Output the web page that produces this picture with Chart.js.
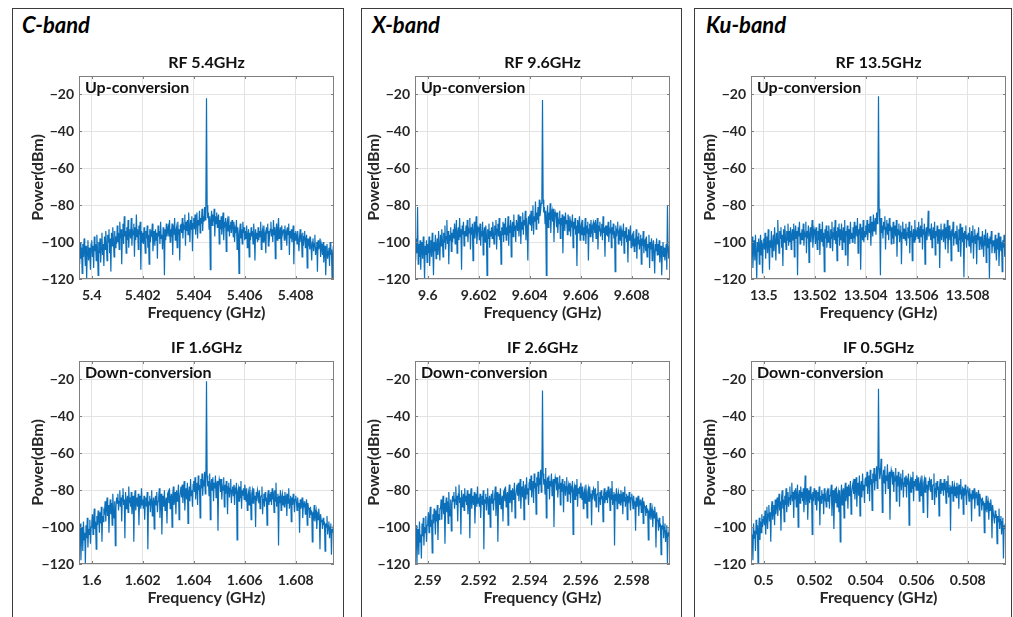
<!DOCTYPE html>
<html>
<head>
<meta charset="utf-8">
<title>Conversion spectra</title>
<script src="https://cdn.jsdelivr.net/npm/chart.js@4/dist/chart.umd.min.js"></script>
<style>
  body { margin: 0; background: #fff; width: 1013px; height: 617px; overflow: hidden; position: relative; }
  .band-box { position: absolute; top: 8px; height: 620px; border: 1.5px solid #3c3c3c; box-sizing: border-box; }
  .band-title { position: absolute; top: 13px; font: italic bold 22px Lato, "Liberation Sans", sans-serif; line-height: 24px; color: #000; }
  canvas.panel { position: absolute; }
</style>
</head>
<body>
<div class="band-box" style="left:12px;width:332px"></div>
<div class="band-box" style="left:361px;width:321px"></div>
<div class="band-box" style="left:694px;width:318px"></div>
<div class="band-title" style="left:22px">C-band</div>
<div class="band-title" style="left:372px">X-band</div>
<div class="band-title" style="left:706px">Ku-band</div>

<canvas class="panel" id="cUpChart"></canvas>
<canvas class="panel" id="cDownChart"></canvas>
<canvas class="panel" id="xUpChart"></canvas>
<canvas class="panel" id="xDownChart"></canvas>
<canvas class="panel" id="kuUpChart"></canvas>
<canvas class="panel" id="kuDownChart"></canvas>

<script>
// Spectrum traces: 401 bins across a 10 MHz span around each centre (dBm)
const cUpCenter = 5.4045;
const cUp = [
  -104,-112,-100,-109,-103,-117,-101,-108,-98,-106,-113,-102,-120,-105,-99,-110,-103,-107,-115,-101,
  -99,-108,-102,-114,-97,-105,-101,-110,-96,-104,-118,-100,-106,-98,-111,-103,-95,-107,-101,-113,
  -97,-104,-94,-101,-110,-96,-100,-93,-106,-98,-116,-95,-102,-92,-99,-108,-94,-103,-97,-101,
  -91,-100,-95,-104,-89,-98,-93,-112,-96,-90,-101,-86,-97,-94,-106,-92,-99,-88,-103,-95,
  -93,-98,-87,-102,-94,-96,-90,-108,-92,-99,-85,-97,-93,-104,-91,-96,-89,-115,-94,-100,
  -95,-101,-92,-99,-106,-94,-98,-91,-103,-96,-112,-93,-100,-95,-97,-90,-105,-98,-94,-102,
  -93,-99,-95,-109,-91,-97,-94,-101,-89,-98,-96,-104,-92,-95,-118,-93,-99,-90,-97,-94,
  -92,-97,-88,-100,-93,-95,-90,-107,-91,-96,-87,-99,-94,-92,-103,-89,-96,-93,-110,-91,
  -90,-95,-87,-98,-91,-93,-85,-102,-89,-94,-88,-96,-84,-92,-100,-88,-93,-86,-105,-90,
  -87,-93,-85,-96,-89,-84,-98,-88,-91,-83,-95,-87,-90,-82,-94,-86,-89,-81,-88,-79,
  -22,
  -80,-87,-84,-93,-86,-115,-88,-83,-91,-85,-89,-82,-97,-86,-90,-84,-92,-87,-85,-101,
  -88,-93,-86,-96,-90,-84,-99,-89,-92,-87,-105,-90,-88,-94,-86,-97,-91,-89,-95,-88,
  -91,-97,-89,-100,-93,-95,-88,-104,-92,-96,-117,-94,-90,-98,-93,-101,-89,-95,-92,-99,
  -94,-98,-91,-103,-96,-93,-108,-95,-99,-92,-97,-94,-101,-90,-96,-110,-93,-98,-95,-100,
  -92,-99,-94,-97,-89,-104,-95,-93,-100,-91,-98,-96,-106,-92,-95,-90,-102,-94,-97,-93,
  -89,-97,-93,-100,-88,-96,-92,-109,-94,-90,-99,-93,-87,-98,-95,-92,-104,-91,-96,-94,
  -93,-99,-91,-97,-95,-102,-92,-96,-90,-107,-94,-98,-93,-100,-96,-91,-112,-95,-99,-94,
  -96,-101,-94,-99,-105,-97,-93,-100,-98,-108,-95,-102,-97,-94,-103,-99,-96,-114,-98,-101,
  -99,-104,-97,-102,-110,-100,-98,-105,-101,-96,-107,-103,-100,-116,-99,-104,-102,-98,-108,-101,
  -103,-107,-100,-111,-104,-102,-118,-106,-101,-109,-105,-103,-113,-100,-107,-104,-120,-106,-102,-109
];
const cUpTicks = [5.4, 5.402, 5.404, 5.406, 5.408];

const cDownCenter = 1.6045;
const cDown = [
  -102,-110,-98,-118,-105,-100,-113,-97,-107,-103,-120,-99,-106,-95,-111,-101,-104,-96,-109,-100,
  -98,-93,-104,-95,-90,-101,-97,-112,-94,-99,-91,-96,-103,-92,-98,-89,-108,-94,-97,-91,
  -92,-86,-97,-90,-84,-94,-88,-103,-91,-85,-93,-87,-99,-82,-90,-95,-86,-110,-89,-84,
  -87,-82,-91,-86,-80,-89,-84,-97,-83,-79,-88,-85,-106,-81,-90,-86,-83,-92,-78,-87,
  -84,-89,-81,-93,-86,-83,-108,-85,-80,-91,-87,-84,-89,-82,-99,-86,-83,-90,-79,-88,
  -85,-90,-83,-96,-87,-84,-89,-81,-112,-86,-88,-83,-92,-85,-80,-94,-87,-84,-101,-86,
  -83,-88,-81,-92,-86,-84,-79,-95,-85,-82,-104,-87,-83,-89,-80,-91,-86,-84,-98,-82,
  -81,-87,-79,-90,-84,-82,-100,-83,-78,-88,-85,-81,-93,-80,-86,-83,-77,-96,-84,-81,
  -78,-84,-77,-87,-80,-75,-91,-82,-79,-85,-76,-98,-81,-78,-86,-74,-83,-80,-89,-77,
  -75,-81,-73,-85,-78,-76,-88,-72,-80,-77,-95,-74,-79,-71,-83,-76,-78,-70,-82,-74,
  -21,
  -72,-78,-75,-83,-71,-96,-77,-74,-80,-73,-86,-76,-79,-72,-84,-77,-75,-102,-78,-74,
  -76,-81,-74,-85,-78,-80,-73,-89,-77,-82,-75,-80,-93,-78,-76,-84,-79,-74,-87,-80,
  -78,-83,-77,-88,-80,-82,-76,-107,-81,-79,-86,-78,-84,-75,-90,-80,-83,-79,-85,-77,
  -80,-86,-79,-91,-83,-81,-88,-78,-84,-96,-82,-80,-87,-79,-85,-83,-100,-81,-86,-80,
  -82,-87,-80,-90,-84,-83,-78,-93,-85,-82,-89,-81,-86,-84,-99,-83,-80,-88,-82,-86,
  -81,-88,-79,-85,-83,-92,-80,-86,-76,-89,-84,-82,-110,-83,-87,-80,-91,-84,-82,-88,
  -83,-89,-81,-86,-84,-94,-82,-87,-79,-90,-85,-83,-97,-84,-88,-82,-86,-92,-85,-83,
  -86,-91,-84,-89,-87,-103,-85,-90,-88,-84,-95,-87,-89,-86,-93,-88,-85,-99,-87,-90,
  -90,-95,-89,-93,-91,-108,-92,-94,-88,-97,-93,-91,-101,-92,-96,-90,-94,-112,-93,-97,
  -96,-101,-95,-99,-97,-113,-98,-100,-94,-104,-99,-97,-106,-100,-98,-115,-101,-103,-99,-105
];
const cDownTicks = [1.6, 1.602, 1.604, 1.606, 1.608];

const xUpCenter = 9.6045;
const xUp = [
  -103,-110,-98,-106,-81,-112,-101,-108,-99,-115,-104,-100,-109,-97,-105,-120,-102,-107,-99,-111,
  -101,-106,-97,-113,-103,-99,-108,-95,-104,-118,-100,-105,-96,-109,-102,-98,-107,-94,-103,-110,
  -96,-102,-93,-99,-108,-95,-100,-91,-104,-97,-88,-101,-94,-112,-96,-99,-92,-105,-95,-100,
  -93,-98,-90,-101,-94,-88,-106,-95,-92,-99,-87,-97,-93,-115,-91,-96,-89,-102,-94,-97,
  -91,-97,-88,-100,-93,-95,-87,-104,-92,-96,-90,-110,-94,-89,-98,-93,-86,-101,-95,-92,
  -93,-99,-90,-102,-94,-97,-89,-107,-95,-92,-100,-91,-96,-118,-93,-98,-90,-103,-94,-97,
  -92,-98,-89,-95,-101,-91,-96,-88,-104,-93,-90,-97,-87,-99,-94,-112,-92,-96,-89,-100,
  -90,-96,-87,-99,-92,-94,-86,-102,-91,-95,-88,-108,-92,-89,-97,-85,-94,-91,-100,-88,
  -88,-94,-85,-97,-90,-86,-101,-89,-93,-84,-96,-88,-91,-83,-99,-87,-92,-110,-86,-90,
  -85,-91,-83,-94,-87,-80,-96,-86,-89,-78,-93,-84,-88,-81,-90,-77,-86,-83,-79,-76,
  -23,
  -77,-84,-81,-90,-83,-118,-86,-80,-92,-84,-88,-79,-95,-85,-83,-89,-82,-100,-86,-84,
  -86,-92,-84,-95,-88,-90,-83,-98,-87,-91,-85,-106,-89,-86,-94,-84,-90,-88,-96,-85,
  -88,-94,-86,-97,-90,-92,-85,-103,-89,-93,-87,-96,-91,-113,-88,-95,-90,-86,-99,-92,
  -90,-96,-88,-99,-92,-94,-87,-101,-91,-95,-89,-110,-93,-90,-97,-88,-94,-92,-100,-89,
  -90,-95,-88,-98,-92,-87,-104,-91,-94,-89,-97,-93,-90,-99,-86,-95,-92,-108,-91,-96,
  -91,-97,-89,-100,-93,-95,-88,-103,-92,-96,-90,-98,-94,-116,-91,-97,-93,-89,-101,-95,
  -93,-99,-91,-102,-95,-97,-90,-106,-94,-98,-92,-100,-96,-111,-93,-99,-95,-91,-103,-97,
  -96,-102,-94,-105,-98,-100,-93,-109,-97,-101,-95,-104,-99,-96,-112,-98,-102,-94,-106,-100,
  -99,-105,-97,-108,-101,-103,-96,-114,-100,-104,-98,-110,-102,-99,-106,-117,-101,-105,-98,-107,
  -101,-107,-99,-111,-104,-102,-118,-105,-100,-108,-103,-110,-106,-101,-115,-80,-104,-109,-102,-120
];
const xUpTicks = [9.6, 9.602, 9.604, 9.606, 9.608];

const xDownCenter = 2.5945;
const xDown = [
  -103,-112,-99,-120,-106,-101,-115,-97,-108,-104,-117,-98,-105,-95,-110,-100,-103,-94,-108,-99,
  -97,-92,-103,-94,-89,-100,-96,-114,-93,-98,-90,-95,-104,-91,-97,-88,-107,-93,-96,-90,
  -90,-85,-96,-88,-83,-93,-87,-109,-89,-84,-92,-86,-98,-81,-90,-94,-85,-102,-88,-83,
  -86,-81,-90,-85,-78,-88,-83,-97,-82,-77,-87,-84,-104,-80,-89,-85,-82,-91,-79,-86,
  -83,-88,-80,-93,-85,-82,-106,-84,-79,-90,-86,-83,-88,-81,-98,-85,-82,-89,-78,-87,
  -84,-89,-82,-95,-86,-83,-88,-80,-112,-85,-87,-82,-91,-84,-79,-93,-86,-83,-100,-85,
  -82,-87,-80,-91,-85,-83,-78,-94,-84,-81,-108,-86,-82,-88,-79,-90,-85,-83,-97,-81,
  -80,-86,-78,-89,-83,-81,-99,-82,-77,-87,-84,-80,-92,-79,-85,-82,-76,-95,-83,-80,
  -77,-83,-76,-86,-79,-74,-90,-81,-78,-84,-75,-96,-80,-77,-85,-73,-82,-79,-88,-76,
  -74,-80,-72,-84,-77,-75,-87,-71,-79,-76,-93,-73,-78,-70,-82,-75,-77,-69,-81,-73,
  -26,
  -71,-77,-74,-82,-68,-95,-76,-73,-79,-72,-85,-75,-78,-71,-83,-76,-74,-100,-77,-73,
  -75,-80,-73,-84,-77,-79,-72,-88,-76,-81,-74,-79,-92,-77,-75,-83,-78,-73,-86,-79,
  -77,-82,-76,-87,-79,-81,-75,-104,-80,-78,-85,-77,-83,-74,-89,-79,-82,-78,-84,-76,
  -79,-85,-78,-90,-82,-80,-87,-77,-83,-95,-81,-79,-86,-78,-84,-82,-99,-80,-85,-79,
  -80,-86,-79,-89,-83,-82,-75,-92,-84,-81,-88,-80,-85,-83,-97,-82,-79,-87,-81,-85,
  -80,-87,-78,-84,-82,-91,-79,-85,-75,-88,-83,-81,-110,-82,-86,-79,-90,-83,-81,-87,
  -82,-88,-80,-85,-83,-93,-81,-86,-78,-89,-84,-82,-96,-83,-87,-81,-85,-91,-84,-82,
  -85,-90,-83,-88,-86,-102,-84,-89,-87,-83,-94,-86,-88,-85,-92,-87,-84,-98,-86,-89,
  -89,-94,-88,-92,-90,-107,-91,-93,-87,-96,-92,-90,-100,-91,-95,-89,-93,-111,-92,-96,
  -97,-102,-95,-100,-98,-115,-99,-101,-94,-106,-100,-98,-108,-102,-99,-120,-103,-105,-100,-118
];
const xDownTicks = [2.59, 2.592, 2.594, 2.596, 2.598];

const kuUpCenter = 13.5045;
const kuUp = [
  -101,-108,-97,-114,-103,-99,-110,-96,-106,-120,-100,-105,-98,-112,-102,-96,-107,-99,-117,-101,
  -98,-104,-95,-109,-100,-97,-106,-93,-102,-115,-99,-103,-94,-108,-101,-96,-105,-92,-100,-110,
  -95,-101,-88,-99,-106,-94,-98,-92,-103,-96,-113,-93,-100,-91,-97,-104,-94,-99,-90,-102,
  -94,-100,-92,-104,-96,-93,-99,-90,-108,-95,-91,-98,-94,-118,-92,-97,-89,-101,-95,-99,
  -93,-99,-90,-102,-95,-97,-89,-106,-94,-98,-91,-111,-96,-92,-100,-94,-88,-103,-97,-93,
  -95,-101,-92,-98,-104,-94,-99,-90,-107,-96,-93,-100,-89,-102,-95,-116,-93,-98,-91,-103,
  -94,-100,-91,-97,-103,-93,-98,-89,-105,-95,-92,-99,-88,-101,-94,-110,-92,-97,-90,-102,
  -93,-99,-90,-104,-95,-92,-100,-88,-107,-94,-97,-91,-113,-96,-93,-101,-89,-98,-95,-100,
  -92,-98,-89,-101,-94,-91,-97,-87,-106,-93,-96,-90,-115,-95,-92,-99,-88,-100,-94,-97,
  -91,-96,-88,-99,-93,-90,-95,-86,-102,-92,-89,-97,-85,-94,-91,-87,-96,-84,-90,-83,
  -21,
  -82,-90,-118,-87,-95,-91,-98,-89,-93,-86,-104,-92,-88,-96,-90,-99,-87,-94,-91,-101,
  -92,-98,-89,-101,-94,-91,-97,-88,-108,-93,-96,-90,-100,-94,-91,-112,-95,-89,-98,-93,
  -93,-99,-90,-102,-95,-92,-98,-89,-106,-94,-97,-91,-110,-96,-93,-100,-88,-99,-95,-97,
  -92,-98,-89,-100,-94,-91,-97,-87,-104,-93,-96,-90,-112,-95,-92,-99,-94,-83,-97,-93,
  -93,-99,-90,-103,-95,-92,-98,-89,-107,-94,-97,-91,-101,-96,-93,-114,-95,-90,-99,-94,
  -93,-100,-90,-97,-104,-92,-98,-88,-106,-95,-91,-99,-94,-110,-93,-97,-89,-102,-95,-98,
  -94,-101,-91,-98,-105,-93,-99,-90,-108,-96,-92,-100,-95,-119,-94,-98,-91,-103,-96,-99,
  -95,-102,-92,-99,-106,-94,-100,-91,-109,-97,-93,-101,-96,-112,-95,-99,-92,-104,-97,-100,
  -97,-104,-94,-101,-108,-96,-102,-93,-111,-99,-95,-103,-98,-120,-97,-101,-94,-106,-99,-102,
  -99,-106,-96,-103,-110,-98,-104,-95,-113,-101,-97,-105,-100,-116,-99,-103,-96,-108,-101,-104
];
const kuUpTicks = [13.5, 13.502, 13.504, 13.506, 13.508];

const kuDownCenter = 0.5045;
const kuDown = [
  -100,-109,-104,-118,-98,-106,-102,-113,-96,-104,-99,-120,-101,-95,-107,-97,-103,-93,-100,-96,
  -94,-99,-91,-104,-95,-89,-101,-93,-88,-97,-92,-108,-90,-86,-96,-91,-88,-99,-85,-93,
  -89,-84,-94,-87,-82,-91,-86,-102,-84,-80,-90,-85,-97,-83,-88,-79,-92,-86,-81,-89,
  -84,-78,-88,-83,-76,-86,-81,-95,-80,-85,-79,-89,-82,-77,-100,-83,-80,-87,-78,-84,
  -81,-86,-79,-92,-83,-72,-88,-82,-79,-96,-84,-80,-87,-78,-85,-82,-104,-81,-86,-79,
  -82,-88,-80,-91,-84,-81,-86,-78,-99,-83,-87,-80,-85,-82,-93,-79,-86,-84,-89,-81,
  -80,-86,-79,-90,-83,-81,-77,-94,-82,-80,-101,-84,-79,-87,-78,-89,-83,-81,-92,-80,
  -108,-84,-77,-88,-81,-79,-95,-80,-76,-86,-82,-78,-90,-77,-83,-80,-75,-93,-81,-78,
  -76,-82,-74,-85,-78,-73,-89,-79,-76,-83,-72,-94,-78,-75,-84,-71,-80,-77,-87,-74,
  -73,-78,-70,-82,-75,-72,-86,-69,-77,-74,-91,-71,-76,-68,-80,-73,-75,-67,-79,-71,
  -25,
  -68,-74,-71,-63,-70,-92,-73,-69,-76,-67,-82,-72,-75,-66,-79,-73,-70,-96,-74,-69,
  -71,-77,-70,-81,-73,-75,-68,-86,-72,-78,-70,-75,-89,-73,-71,-80,-74,-69,-84,-76,
  -73,-78,-72,-84,-75,-77,-71,-99,-76,-74,-81,-73,-79,-70,-86,-75,-78,-74,-80,-72,
  -74,-80,-73,-86,-77,-75,-83,-72,-78,-92,-76,-74,-81,-73,-79,-77,-95,-75,-80,-74,
  -75,-81,-74,-85,-78,-77,-71,-88,-79,-76,-84,-75,-80,-78,-94,-77,-74,-82,-76,-80,
  -76,-83,-74,-80,-78,-87,-75,-81,-72,-84,-79,-77,-102,-78,-82,-75,-86,-79,-77,-83,
  -78,-84,-76,-81,-79,-90,-77,-82,-74,-85,-80,-78,-93,-79,-83,-77,-81,-88,-80,-78,
  -81,-86,-79,-84,-82,-97,-80,-85,-83,-79,-90,-82,-84,-81,-88,-83,-80,-94,-82,-85,
  -85,-91,-84,-88,-86,-103,-87,-89,-83,-92,-88,-86,-96,-87,-91,-85,-89,-106,-88,-92,
  -92,-98,-91,-95,-93,-109,-94,-97,-90,-101,-96,-94,-104,-97,-95,-117,-99,-101,-98,-106
];
const kuDownTicks = [0.5, 0.502, 0.504, 0.506, 0.508];

const powerTicks = [-120, -100, -80, -60, -40, -20];
const spanGHz = 0.01;

// Layout
const PLOT_W = 255;
const PLOT_H = 203;
const PAD_LEFT = 70;
const PAD_TOP = 30;
const PAD_RIGHT = 6;
const PAD_BOTTOM = 50;
const FONT = 'Lato, "Liberation Sans", sans-serif';
const TRACE_COLOR = '#0b6fba';

const panels = [
  { canvas: 'cUpChart',    center: cUpCenter,    values: cUp,    ticks: cUpTicks,    title: 'RF 5.4GHz',  note: 'Up-conversion',   left: 79,  top: 76 },
  { canvas: 'cDownChart',  center: cDownCenter,  values: cDown,  ticks: cDownTicks,  title: 'IF 1.6GHz',  note: 'Down-conversion', left: 79,  top: 361 },
  { canvas: 'xUpChart',    center: xUpCenter,    values: xUp,    ticks: xUpTicks,    title: 'RF 9.6GHz',  note: 'Up-conversion',   left: 415, top: 76 },
  { canvas: 'xDownChart',  center: xDownCenter,  values: xDown,  ticks: xDownTicks,  title: 'IF 2.6GHz',  note: 'Down-conversion', left: 415, top: 361 },
  { canvas: 'kuUpChart',   center: kuUpCenter,   values: kuUp,   ticks: kuUpTicks,   title: 'RF 13.5GHz', note: 'Up-conversion',   left: 751, top: 76 },
  { canvas: 'kuDownChart', center: kuDownCenter, values: kuDown, ticks: kuDownTicks, title: 'IF 0.5GHz',  note: 'Down-conversion', left: 751, top: 361 }
];

// Frame, inward ticks, titles and the in-plot note
const panelDecor = {
  id: 'panelDecor',
  afterDraw(chart, args, opts) {
    const { ctx, chartArea: a } = chart;
    const xs = chart.scales.x;
    const ys = chart.scales.y;
    ctx.save();

    ctx.strokeStyle = '#7f7f7f';
    ctx.lineWidth = 1;
    ctx.strokeRect(a.left + 0.5, a.top + 0.5, a.right - a.left - 1, a.bottom - a.top - 1);

    ctx.beginPath();
    opts.xTicks.forEach(v => {
      const px = Math.round(xs.getPixelForValue(v)) + 0.5;
      ctx.moveTo(px, a.bottom); ctx.lineTo(px, a.bottom - 3);
      ctx.moveTo(px, a.top); ctx.lineTo(px, a.top + 3);
    });
    powerTicks.forEach(v => {
      const py = Math.round(ys.getPixelForValue(v)) + 0.5;
      ctx.moveTo(a.left, py); ctx.lineTo(a.left + 3, py);
      ctx.moveTo(a.right, py); ctx.lineTo(a.right - 3, py);
    });
    ctx.stroke();

    const cx = (a.left + a.right) / 2;
    ctx.fillStyle = '#111';
    ctx.textAlign = 'center';
    ctx.textBaseline = 'middle';
    ctx.font = `bold 16px ${FONT}`;
    ctx.fillText(opts.title, cx, a.top - 13);

    ctx.fillStyle = '#262626';
    ctx.font = `bold 16px ${FONT}`;
    ctx.fillText('Frequency (GHz)', cx, a.bottom + 34);

    ctx.save();
    ctx.translate(a.left - 41, (a.top + a.bottom) / 2);
    ctx.rotate(-Math.PI / 2);
    ctx.fillText('Power(dBm)', 0, 0);
    ctx.restore();

    ctx.fillStyle = '#111';
    ctx.textAlign = 'left';
    ctx.font = `bold 16px ${FONT}`;
    ctx.fillText(opts.note, a.left + 6, a.top + 12);

    ctx.restore();
  }
};

function buildTrace(panel) {
  const start = panel.center - spanGHz / 2;
  const step = spanGHz / (panel.values.length - 1);
  return panel.values.map((p, i) => ({ x: start + i * step, y: p }));
}

function createPanel(panel) {
  const canvas = document.getElementById(panel.canvas);
  canvas.width = PLOT_W + PAD_LEFT + PAD_RIGHT;
  canvas.height = PLOT_H + PAD_TOP + PAD_BOTTOM;
  canvas.style.left = (panel.left - PAD_LEFT) + 'px';
  canvas.style.top = (panel.top - PAD_TOP) + 'px';

  return new Chart(canvas, {
    type: 'line',
    data: {
      datasets: [{
        data: buildTrace(panel),
        borderColor: TRACE_COLOR,
        borderWidth: 1.2,
        pointRadius: 0,
        tension: 0
      }]
    },
    options: {
      responsive: false,
      animation: false,
      devicePixelRatio: 1,
      layout: { padding: { top: PAD_TOP, right: PAD_RIGHT, left: 0, bottom: 0 } },
      plugins: {
        legend: { display: false },
        tooltip: { enabled: false },
        panelDecor: { title: panel.title, note: panel.note, xTicks: panel.ticks }
      },
      scales: {
        x: {
          type: 'linear',
          min: panel.center - spanGHz / 2,
          max: panel.center + spanGHz / 2,
          afterBuildTicks: s => { s.ticks = panel.ticks.map(v => ({ value: v })); },
          afterFit: s => { s.height = PAD_BOTTOM; },
          grid: { color: '#e3e3e3', drawTicks: false },
          border: { display: false },
          ticks: {
            padding: 8,
            color: '#262626',
            font: { family: FONT, size: 14, weight: 'bold' },
            maxRotation: 0,
            callback: v => String(Number(v.toFixed(3)))
          }
        },
        y: {
          type: 'linear',
          min: -120,
          max: -10,
          afterBuildTicks: s => { s.ticks = powerTicks.map(v => ({ value: v })); },
          afterFit: s => { s.width = PAD_LEFT; },
          grid: { color: '#e3e3e3', drawTicks: false },
          border: { display: false },
          ticks: {
            padding: 5,
            color: '#262626',
            font: { family: FONT, size: 14, weight: 'bold' },
            callback: v => '\u2212' + Math.abs(v)
          }
        }
      }
    },
    plugins: [panelDecor]
  });
}

panels.forEach(createPanel);
</script>
</body>
</html>
